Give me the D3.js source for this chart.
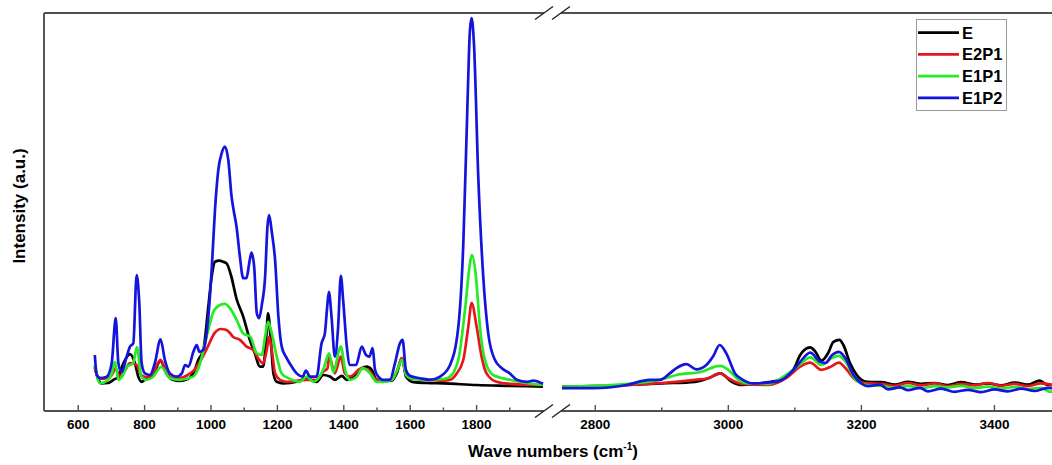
<!DOCTYPE html>
<html>
<head>
<meta charset="utf-8">
<script src="https://cdn.jsdelivr.net/npm/d3@7"></script>
<style>
  html, body { margin: 0; padding: 0; background: #fff; }
  svg { display: block; font-family: "Liberation Sans", Arial, sans-serif; }
</style>
</head>
<body>
<svg id="chart" width="1052" height="465"></svg>
<script>
// spectra as [wave number, intensity (a.u.)] pairs
const seriesNames = ["E", "E2P1", "E1P1", "E1P2"];
const seriesColors = ["#000000", "#e8161a", "#26ea26", "#1414dc"];

const E = [
  [650, 11], [660, 8], [671, 6.9], [690, 7], [706, 7.8], [720, 8.5], [736, 11.9], [756, 14.2],
  [771, 11.9], [781, 8.6], [791, 7.3], [806, 8.2], [825, 9], [848, 12.5], [865, 9.5], [885, 7.8],
  [905, 7.5], [930, 8], [950, 10], [962, 12.8], [977, 15.3], [992, 26.1], [1002, 33.6], [1012, 37.3],
  [1025, 37.6], [1037, 37.3], [1047, 36.9], [1060, 34], [1077, 28], [1097, 23.6], [1117, 17.8],
  [1132, 14.4], [1147, 11.1], [1157, 11.1], [1166, 17.8], [1172, 24.4], [1180, 17.8], [1188, 9.4],
  [1198, 7.3], [1218, 6.9], [1258, 7.3], [1288, 8.2], [1318, 7.3], [1338, 9], [1358, 8.6], [1374, 7.8],
  [1394, 8.8], [1409, 7.8], [1434, 9], [1454, 10.7], [1469, 11.1], [1484, 10.3], [1499, 7.8],
  [1520, 7.5], [1545, 7.6], [1560, 9.5], [1575, 13.2], [1588, 8.5], [1610, 7.2], [1650, 7],
  [1700, 6.9], [1800, 6.5], [1900, 6.3], [2000, 6.1],
  [2750, 6.1], [2800, 6.2], [2850, 6.5], [2900, 6.9], [2950, 7.3], [2970, 8.2], [2988, 9.4],
  [3005, 7.3], [3020, 6.5], [3060, 7.2], [3085, 8.2], [3100, 11], [3108, 14], [3123, 15.9],
  [3130, 15], [3140, 12.6], [3150, 14.5], [3158, 17.3], [3167, 17.8], [3173, 16.5], [3183, 11.9],
  [3193, 9], [3208, 7.3], [3230, 7.2], [3250, 6.6], [3270, 7.3], [3290, 6.8], [3310, 7], [3330, 6.5],
  [3350, 7.2], [3370, 6.6], [3390, 6.9], [3410, 6.4], [3430, 7.1], [3450, 6.6], [3468, 7.6],
  [3480, 6.5], [3500, 6.8]
];

const E2P1 = [
  [650, 10.7], [660, 8.5], [675, 8], [700, 8.8], [713, 10.7], [725, 8.5], [740, 10], [756, 12],
  [776, 11.5], [790, 9], [805, 8.5], [825, 9.5], [848, 12.8], [866, 9.5], [885, 8.2], [905, 8.2],
  [930, 9], [950, 10.3], [970, 12.8], [990, 16], [1010, 19.4], [1030, 20.5], [1045, 20.3],
  [1057, 19.5], [1067, 18.5], [1087, 17.8], [1107, 16.1], [1127, 15.3], [1142, 13.2], [1157, 11.9],
  [1168, 15.3], [1175, 18.6], [1183, 15.3], [1193, 9.4], [1208, 7.8], [1228, 7.3], [1288, 7.8],
  [1318, 7.8], [1338, 9.8], [1351, 10.7], [1356, 13.6], [1373, 9.4], [1391, 13.6], [1403, 9.4],
  [1419, 8.6], [1454, 10.7], [1479, 9.8], [1499, 7.8], [1520, 7.6], [1545, 8], [1560, 10],
  [1575, 13.2], [1588, 9], [1600, 8.2], [1650, 7.8], [1700, 7.6], [1720, 7.8], [1740, 9.4],
  [1760, 12.8], [1775, 21.1], [1785, 27], [1800, 21.1], [1815, 13.6], [1830, 9.4], [1860, 7.3],
  [1900, 6.8], [2000, 6.5],
  [2750, 6.1], [2800, 6.2], [2850, 6.5], [2900, 7], [2950, 7.8], [2970, 8.2], [2988, 9.4],
  [3000, 8.2], [3020, 6.8], [3060, 6.5], [3090, 8.6], [3108, 11.1], [3123, 12.1], [3140, 10.3],
  [3153, 11], [3166, 12.1], [3178, 10.3], [3191, 7.8], [3208, 6.9], [3230, 6.8], [3250, 6.3],
  [3270, 7], [3290, 6.4], [3310, 6.9], [3330, 6.2], [3350, 6.8], [3370, 6.4], [3390, 7],
  [3410, 6.3], [3430, 6.8], [3450, 6.2], [3470, 6.9], [3490, 6.4]
];

const E1P1 = [
  [650, 11.5], [666, 6.9], [686, 7.5], [700, 9], [711, 12.3], [721, 7.8], [735, 9], [746, 11],
  [766, 12], [777, 16], [790, 8.6], [806, 7.8], [825, 8.5], [850, 11], [876, 8.2], [906, 7.8],
  [946, 8.6], [962, 10.7], [992, 20.3], [1007, 24.8], [1027, 26.5], [1042, 26.8], [1057, 25.7],
  [1077, 22.8], [1097, 19.4], [1118, 18.6], [1138, 14.4], [1153, 14], [1163, 18.6], [1172, 22.3],
  [1183, 19.4], [1198, 13.6], [1213, 9.4], [1233, 8.2], [1268, 7.3], [1288, 8.6], [1308, 7.3],
  [1338, 10.3], [1356, 14.4], [1368, 9.8], [1391, 16.1], [1404, 10.3], [1419, 7.8], [1439, 8.6],
  [1457, 10.7], [1479, 9.4], [1499, 7.3], [1520, 7.3], [1545, 7.8], [1560, 10], [1575, 12.8],
  [1588, 9], [1600, 8.2], [1650, 7.8], [1700, 8], [1720, 8.6], [1745, 12.8], [1765, 25.3],
  [1780, 36.9], [1786, 39], [1798, 33.6], [1810, 21.1], [1825, 12.8], [1850, 9], [1900, 7.8],
  [1950, 7], [2000, 6.5],
  [2750, 6.1], [2800, 6.3], [2850, 6.8], [2900, 7.9], [2922, 9], [2960, 9.8], [2980, 11.1],
  [2988, 11.3], [3000, 10.3], [3015, 7.8], [3030, 6.9], [3060, 6.8], [3090, 9.4], [3108, 11.7],
  [3123, 13.4], [3140, 11.5], [3155, 13.2], [3166, 13.8], [3178, 11.9], [3191, 7.8], [3208, 6.5],
  [3230, 6.3], [3250, 5.8], [3270, 6.3], [3290, 5.7], [3310, 6.2], [3330, 5.9], [3350, 6.3],
  [3370, 5.7], [3390, 6.1], [3410, 5.6], [3430, 6], [3450, 5.5], [3470, 5.8], [3484, 4.8], [3495, 5.2]
];

const E1P2 = [
  [650, 14], [656, 9], [666, 8.2], [686, 8.6], [701, 12], [713, 23.2], [721, 12], [731, 9.8],
  [746, 13.6], [756, 16.1], [766, 16.9], [776, 34], [784, 27], [791, 12], [801, 9.4], [816, 9],
  [831, 12], [848, 17.9], [861, 12.8], [876, 9.4], [897, 8.6], [912, 9.4], [922, 11.5], [932, 11.1],
  [947, 14.8], [957, 16.5], [965, 14.8], [977, 15.3], [992, 23.6], [1002, 35.3], [1012, 50.3],
  [1022, 60.3], [1032, 64.4], [1042, 66.1], [1052, 62.8], [1062, 53.6], [1069, 49.8], [1077, 46],
  [1087, 38.6], [1097, 33.2], [1107, 33.2], [1115, 36.9], [1122, 39.6], [1130, 36.1], [1138, 24.4],
  [1145, 23.2], [1153, 26.5], [1163, 33.6], [1170, 46.1], [1175, 49], [1183, 44.8], [1193, 37.8],
  [1203, 23.6], [1213, 16.1], [1228, 13.2], [1243, 11.1], [1258, 9.4], [1276, 8.6], [1286, 10.1],
  [1298, 8.6], [1318, 8.6], [1333, 16.9], [1343, 19.4], [1350, 26.1], [1355, 29.8], [1363, 23.6],
  [1373, 13.6], [1383, 21.1], [1391, 33.8], [1398, 27.8], [1409, 16.1], [1419, 11.5], [1437, 11.5],
  [1454, 16.1], [1467, 14], [1477, 13.6], [1487, 15.7], [1494, 10.3], [1504, 8.6], [1519, 7.8],
  [1539, 7.8], [1554, 11.9], [1569, 16.9], [1577, 17.8], [1587, 10.3], [1599, 8.8], [1629, 8.2],
  [1660, 7.8], [1690, 8.6], [1720, 11.5], [1745, 21.1], [1760, 41.9], [1772, 75.3], [1780, 95.3],
  [1785, 98.2], [1792, 91.9], [1805, 58.6], [1820, 33.6], [1835, 19.4], [1855, 12.8], [1876, 10.7],
  [1900, 9.4], [1921, 7.8], [1951, 7.3], [1971, 7.6], [2000, 6.8],
  [2750, 5.7], [2797, 5.7], [2847, 6.5], [2882, 7.8], [2897, 7.8], [2912, 9.4], [2922, 10.7],
  [2937, 11.7], [2952, 10.4], [2967, 11.5], [2977, 13.6], [2987, 16.5], [2997, 14.4], [3010, 9.4],
  [3022, 7.8], [3037, 6.9], [3058, 7.1], [3078, 7.6], [3098, 10.3], [3108, 12.3], [3123, 14.6],
  [3138, 12.3], [3146, 12], [3156, 14], [3166, 14.8], [3176, 13.2], [3188, 9], [3201, 6.8],
  [3210, 6.2], [3228, 6.6], [3240, 5.4], [3258, 5.9], [3270, 5.2], [3288, 5.8], [3300, 4.9],
  [3320, 5.6], [3340, 4.8], [3360, 5.3], [3380, 4.7], [3400, 5.4], [3420, 4.9], [3440, 5.6],
  [3460, 5.0], [3480, 5.8], [3500, 5.4]
];

const allSeries = [E, E2P1, E1P1, E1P2];

// broken x axis: two ranges with their ticks
const lowDomain = [500, 2000];
const highDomain = [2750, 3500];
const lowMajor = [600, 800, 1000, 1200, 1400, 1600, 1800];
const lowMinor = [700, 900, 1100, 1300, 1500, 1700, 1900];
const highMajor = [2800, 3000, 3200, 3400];
const highMinor = [2900, 3100, 3300];
const yDomain = [0, 99.5];

const svg = d3.select("#chart");
const plotTop = 13, plotBottom = 411, plotLeft = 44, plotRight = 1052;
const lowEnd = 544, highStart = 561;

const xLow = d3.scaleLinear().domain(lowDomain).range([45, 543]);
const xHigh = d3.scaleLinear().domain(highDomain).range([562, 1061]);
const y = d3.scaleLinear().domain(yDomain).range([plotBottom, plotTop]);

const axisColor = "#505050";

// curves
const line = x => d3.line().x(d => x(d[0])).y(d => y(d[1])).curve(d3.curveMonotoneX);

allSeries.forEach((s, i) => {
  const lo = s.filter(d => d[0] <= lowDomain[1]);
  const hi = s.filter(d => d[0] >= highDomain[0]);
  [[lo, xLow], [hi, xHigh]].forEach(([pts, x]) => {
    svg.append("path")
      .attr("d", line(x)(pts))
      .attr("fill", "none")
      .attr("stroke", seriesColors[i])
      .attr("stroke-width", 2.7)
      .attr("stroke-linejoin", "round");
  });
});

// frame lines (left, bottom and top, with a gap at the break)
const frame = svg.append("g").attr("stroke", axisColor).attr("stroke-width", 1.9).attr("fill", "none");
frame.append("line").attr("x1", plotLeft).attr("x2", plotLeft).attr("y1", plotTop).attr("y2", plotBottom);
[plotTop, plotBottom].forEach(yy => {
  frame.append("line").attr("x1", plotLeft).attr("x2", lowEnd).attr("y1", yy).attr("y2", yy);
  frame.append("line").attr("x1", highStart).attr("x2", plotRight).attr("y1", yy).attr("y2", yy);
  [lowEnd, highStart].forEach(cx => {
    frame.append("line")
      .attr("x1", cx - 9).attr("y1", yy + 6.5)
      .attr("x2", cx + 9).attr("y2", yy - 6.5)
      .attr("stroke", "#222").attr("stroke-width", 1.4);
  });
});

// ticks point inward
function drawTicks(x, major, minor) {
  svg.append("g").selectAll("line").data(major).enter().append("line")
    .attr("x1", d => x(d)).attr("x2", d => x(d))
    .attr("y1", plotBottom).attr("y2", plotBottom - 6)
    .attr("stroke", axisColor).attr("stroke-width", 1.4);
  svg.append("g").selectAll("line").data(minor).enter().append("line")
    .attr("x1", d => x(d)).attr("x2", d => x(d))
    .attr("y1", plotBottom).attr("y2", plotBottom - 3.5)
    .attr("stroke", axisColor).attr("stroke-width", 1.4);
  svg.append("g").selectAll("text").data(major).enter().append("text")
    .attr("x", d => x(d)).attr("y", 428.5)
    .attr("text-anchor", "middle")
    .attr("font-size", 13.5).attr("font-weight", "bold")
    .text(d => d);
}
drawTicks(xLow, lowMajor, lowMinor);
drawTicks(xHigh, highMajor, highMinor);

// axis titles
const xt = svg.append("text")
  .attr("x", 553).attr("y", 457)
  .attr("text-anchor", "middle")
  .attr("font-size", 17).attr("font-weight", "bold");
xt.append("tspan").text("Wave numbers (cm");
xt.append("tspan").attr("font-size", 10).attr("dy", -7).text("-1");
xt.append("tspan").attr("dy", 7).text(")");

svg.append("text")
  .attr("transform", "translate(25,206) rotate(-90)")
  .attr("text-anchor", "middle")
  .attr("font-size", 17).attr("font-weight", "bold")
  .text("Intensity (a.u.)");

// legend
const legend = svg.append("g");
legend.append("rect")
  .attr("x", 916.5).attr("y", 19.5).attr("width", 90).attr("height", 91)
  .attr("fill", "#fff").attr("stroke", "#9a9a9a").attr("stroke-width", 1);
const rowY = d3.scaleLinear().domain([0, 3]).range([32.6, 97.8]);
seriesNames.forEach((name, i) => {
  legend.append("line")
    .attr("x1", 918).attr("x2", 959)
    .attr("y1", rowY(i)).attr("y2", rowY(i))
    .attr("stroke", seriesColors[i]).attr("stroke-width", 2.8);
  legend.append("text")
    .attr("x", 962).attr("y", rowY(i))
    .attr("dy", "0.36em")
    .attr("font-size", 16.5).attr("font-weight", "bold")
    .text(name);
});
</script>
</body>
</html>
